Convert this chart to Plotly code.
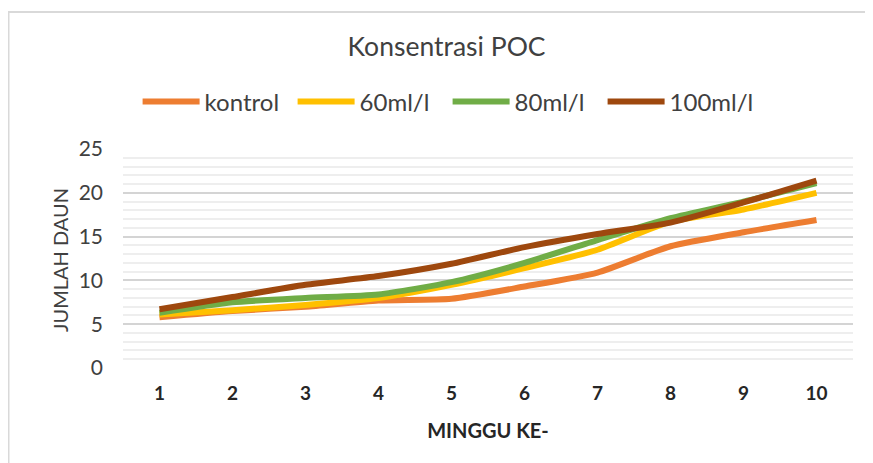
import plotly.graph_objects as go

minggu = [1, 2, 3, 4, 5, 6, 7, 8, 9, 10]
kontrol = [5.8, 6.5, 7.0, 7.7, 7.9, 9.3, 10.9, 13.9, 15.5, 16.9]
ml60 = [6.1, 6.6, 7.2, 8.0, 9.5, 11.4, 13.5, 16.7, 18.1, 20.0]
ml80 = [6.3, 7.5, 8.0, 8.4, 9.8, 12.0, 14.6, 17.1, 19.0, 21.1]
ml100 = [6.7, 8.1, 9.5, 10.5, 11.9, 13.8, 15.3, 16.6, 18.9, 21.4]
names = ["kontrol", "60ml/l", "80ml/l", "100ml/l"]
colors = ["#ED7D31", "#FFC000", "#70AD47", "#9E480E"]

FONT = "Lato"
fig = go.Figure()
for name, vals, col in zip(names, [kontrol, ml60, ml80, ml100], colors):
    fig.add_trace(go.Scatter(
        x=minggu, y=vals, name=name, mode="lines",
        line=dict(color=col, width=6, shape="spline", smoothing=0.6),
    ))

fig.update_layout(
    width=865, height=455,
    margin=dict(l=115, r=20, t=141, b=95),
    paper_bgcolor="white", plot_bgcolor="white",
    font=dict(family=FONT, color="#404040"),
    title=dict(text="Konsentrasi POC", x=0.507, xanchor="center", y=0.914, yanchor="middle",
               font=dict(family=FONT, size=26.5, color="#404040")),
    showlegend=True,
    legend=dict(orientation="h", x=0.02, xanchor="left", y=1.215, yanchor="middle",
                font=dict(family=FONT, size=24, color="#404040"),
                entrywidth=83, entrywidthmode="pixels", itemwidth=57,
                bgcolor="rgba(0,0,0,0)"),
    xaxis=dict(
        range=[0.5, 10.5], tickmode="array", tickvals=minggu,
        ticktext=[f"<b>{m}</b>" for m in minggu],
        showgrid=False, zeroline=False, showline=False, ticks="",
        ticklabelstandoff=12,
        tickfont=dict(family=FONT, size=19, color="#262626"),
        title=dict(text="<b>MINGGU KE-</b>", standoff=20,
                   font=dict(family=FONT, size=20, color="#262626")),
    ),
    yaxis=dict(
        range=[0, 25], dtick=5, tick0=0,
        showgrid=True, gridcolor="#d4d4d4", gridwidth=1.5,
        zeroline=False, showline=False, ticks="",
        ticklabelstandoff=19,
        tickfont=dict(family=FONT, size=21, color="#404040"),
        minor=dict(dtick=1, showgrid=True, gridcolor="#eeeeee", gridwidth=1.5),
    ),
    annotations=[dict(text="JUMLAH DAUN", xref="paper", yref="paper",
                      x=(52 - 115) / 730, y=0.493, xanchor="center", yanchor="middle",
                      textangle=-90, showarrow=False,
                      font=dict(family=FONT, size=20, color="#404040"))],
    shapes=[dict(type="rect", xref="paper", yref="paper",
                 x0=(0.5 - 115) / 730, x1=1.1, y0=-0.6, y1=(360 - 4) / 219,
                 line=dict(color="#d9d9d9", width=2), layer="below")],
)

fig.write_html("out.html")
